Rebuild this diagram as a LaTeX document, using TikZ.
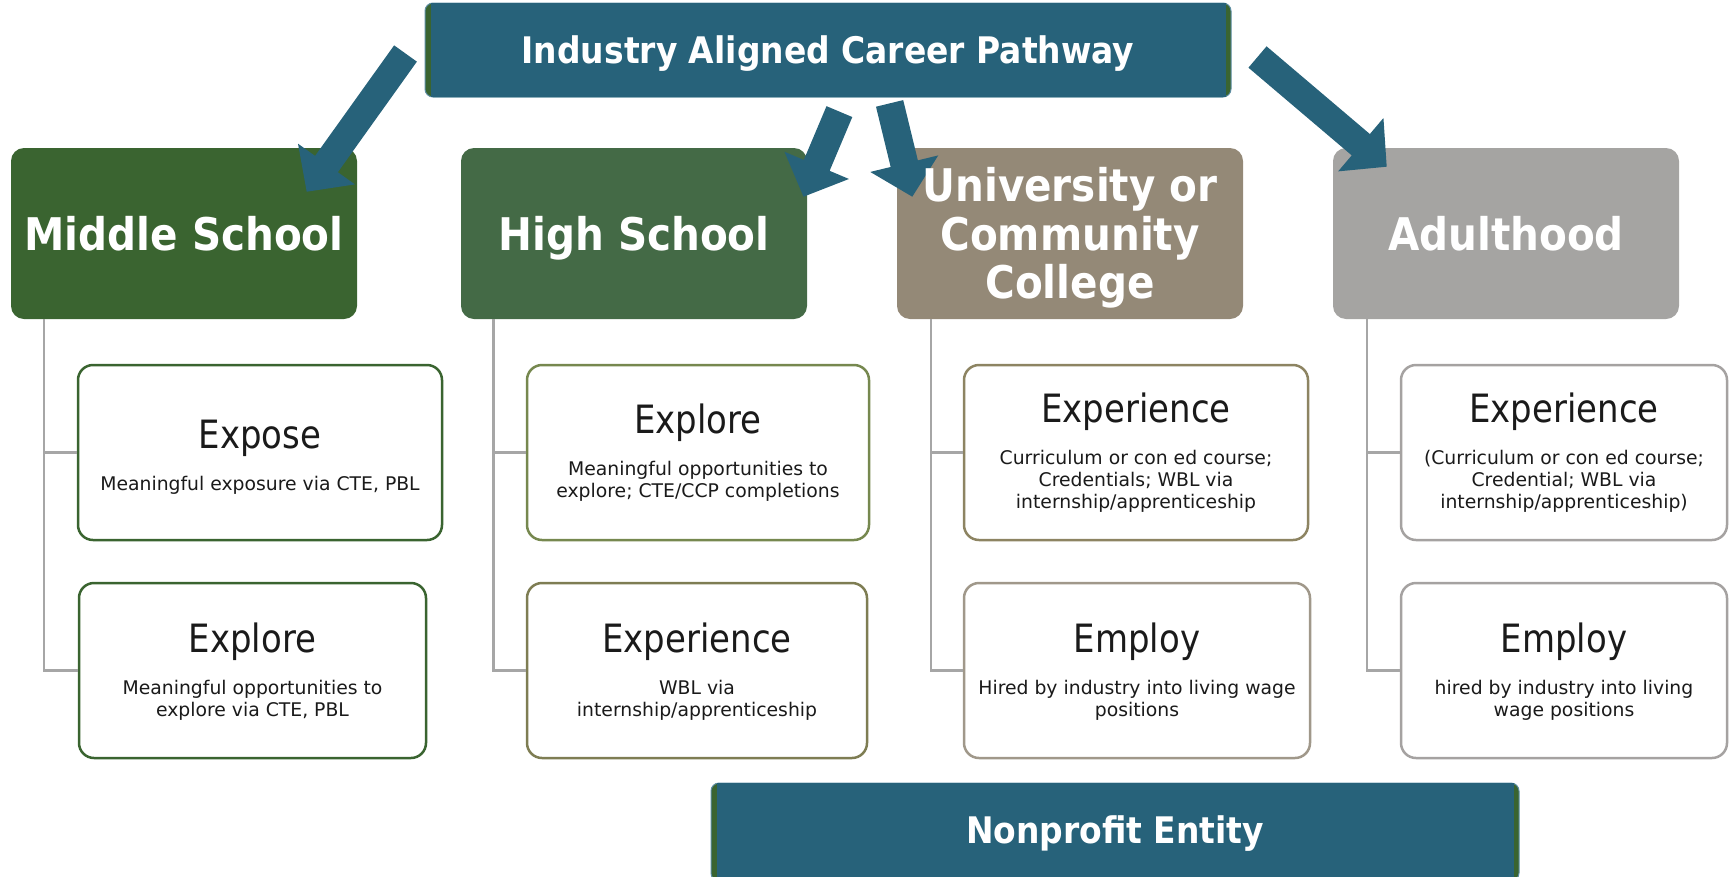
\documentclass[tikz,border=0pt]{standalone}
\usepackage{fontspec}
\setmainfont{DejaVu Sans}
\newfontfamily\titlefont{DejaVu Sans}[FakeStretch=0.87]
\newfontfamily\headfont{DejaVu Sans}[FakeStretch=0.9]
\usetikzlibrary{calc}
\definecolor{bblue}{HTML}{27627A}
\definecolor{bgreen}{HTML}{3A6430}
\definecolor{bborder}{HTML}{5C8DA3}
\definecolor{msg}{HTML}{3A6430}
\definecolor{hsg}{HTML}{446A46}
\definecolor{ucct}{HTML}{948977}
\definecolor{adg}{HTML}{A5A4A2}
\definecolor{hsonec}{HTML}{76884F}
\definecolor{hstwoc}{HTML}{7E7D53}
\definecolor{uonec}{HTML}{8D8462}
\definecolor{utwoc}{HTML}{A0988A}
\definecolor{adc}{HTML}{A5A2A1}
\definecolor{conngray}{HTML}{A6A6A6}
\definecolor{txt}{HTML}{1A1A1A}
\newcommand\mkarrow[2]{%
  \coordinate (#1h) at ($(#2)!34pt!(#1)$);
  \fill[bblue] ($(#1)!14pt!90:(#2)$) -- ($(#1h)!14pt!90:(#2)$) -- ($(#1h)!35pt!90:(#2)$) -- (#2)
    -- ($(#1h)!35pt!-90:(#2)$) -- ($(#1h)!14pt!-90:(#2)$) -- ($(#1)!14pt!-90:(#2)$) -- cycle;}
\begin{document}
\begin{tikzpicture}[x=1pt,y=-1pt,
  hdr/.style={rounded corners=13pt, minimum width=346pt, minimum height=171pt, inner sep=0pt},
  item/.style={draw, line width=2.5pt, fill=white, rounded corners=15pt, minimum height=175pt, inner sep=0pt},
  ttl/.style={font=\titlefont\fontsize{39}{44}\selectfont, text=txt, anchor=base, inner sep=0pt},
  sub/.style={font=\fontsize{18.8}{22}\selectfont, text=txt, anchor=north, align=center, inner sep=0pt},
  conn/.style={draw=conngray, line width=2.5pt},
  hlabel/.style={font=\headfont\bfseries\fontsize{45}{48.6}\selectfont, text=white, align=center, inner sep=0pt},
  blabel/.style={font=\headfont\bfseries\fontsize{36.6}{40}\selectfont, text=white, inner sep=0pt, anchor=base},
  banner/.style={fill=bgreen, draw=bborder, line width=1pt, rounded corners=8pt, minimum height=94pt, inner sep=0pt}]
\useasboundingbox (0,0) rectangle (1733,876);

% header boxes
\node[hdr, fill=msg] (ms) at (184,233.5) {};
\node[hdr, fill=hsg] (hs) at (634,233.5) {};
\node[hdr, fill=ucct] (ucc) at (1070,233.5) {};
\node[hdr, fill=adg] (ad) at (1506,233.5) {};

% item boxes
\node[item, draw=msg, minimum width=364pt] (ms1) at (260,452.5) {};
\node[item, draw=msg, minimum width=347pt] (ms2) at (252.5,670.5) {};
\node[item, draw=hsonec, minimum width=342pt] (hs1) at (698,452.5) {};
\node[item, draw=hstwoc, minimum width=340pt] (hs2) at (697,670.5) {};
\node[item, draw=uonec, minimum width=344pt] (ucc1) at (1136,452.5) {};
\node[item, draw=utwoc, minimum width=346pt] (ucc2) at (1137,670.5) {};
\node[item, draw=adc, minimum width=326pt] (ad1) at (1564,452.5) {};
\node[item, draw=adc, minimum width=326pt] (ad2) at (1564,670.5) {};

% connectors
\coordinate (msx) at (44,319);
\coordinate (hsx) at (493.5,319);
\coordinate (uccx) at (931,319);
\coordinate (adx) at (1367,319);
\draw[conn] (msx) |- (ms2.west);
\draw[conn] (msx |- ms1.west) -- (ms1.west);
\draw[conn] (hsx) |- (hs2.west);
\draw[conn] (hsx |- hs1.west) -- (hs1.west);
\draw[conn] (uccx) |- (ucc2.west);
\draw[conn] (uccx |- ucc1.west) -- (ucc1.west);
\draw[conn] (adx) |- (ad2.west);
\draw[conn] (adx |- ad1.west) -- (ad1.west);

% item texts
\node[ttl] (ms1t) at (260,448) {Expose};
\node[sub] (ms1s) at (260,475.7) {Meaningful exposure via CTE, PBL};
\node[ttl] (ms2t) at (252.5,652) {Explore};
\node[sub] (ms2s) at (252.5,679.7) {Meaningful opportunities to\\explore via CTE, PBL};
\node[ttl] (hs1t) at (698,433.5) {Explore};
\node[sub] (hs1s) at (698,461.2) {Meaningful opportunities to\\explore; CTE/CCP completions};
\node[ttl] (hs2t) at (697,652.5) {Experience};
\node[sub] (hs2s) at (697,680.2) {WBL via\\internship/apprenticeship};
\node[ttl] (ucc1t) at (1136,422.5) {Experience};
\node[sub] (ucc1s) at (1136,450.2) {Curriculum or con ed course;\\Credentials; WBL via\\internship/apprenticeship};
\node[ttl] (ucc2t) at (1137,652) {Employ};
\node[sub] (ucc2s) at (1137,679.7) {Hired by industry into living wage\\positions};
\node[ttl] (ad1t) at (1564,422.5) {Experience};
\node[sub] (ad1s) at (1564,450.2) {(Curriculum or con ed course;\\Credential; WBL via\\internship/apprenticeship)};
\node[ttl] (ad2t) at (1564,652) {Employ};
\node[sub] (ad2s) at (1564,679.7) {hired by industry into living\\wage positions};

% banners
\node[banner, minimum width=806pt] (top) at (828,50) {};
\fill[bblue] ([xshift=6pt,yshift=-0.8pt]top.north west) rectangle ([xshift=-6pt,yshift=0.8pt]top.south east);
\node[blabel] (topl) at (828,63.3) {Industry Aligned Career Pathway};
\node[banner, minimum width=808pt, minimum height=98pt] (bot) at (1115,832) {};
\fill[bblue] ([xshift=6pt,yshift=-0.8pt]bot.north west) rectangle ([xshift=-6pt,yshift=0.8pt]bot.south east);
\node[blabel] (botl) at (1115,843) {Nonprofit Entity};

% arrows
\coordinate (a1) at (405.5,53.5);  \coordinate (a1t) at (306.7,191.7);
\coordinate (a2) at (839.4,111.6); \coordinate (a2t) at (803.5,196.7);
\coordinate (a3) at (889.6,103.4); \coordinate (a3t) at (912.3,196.7);
\coordinate (a4) at (1257.5,57);   \coordinate (a4t) at (1386.7,166.7);
\mkarrow{a1}{a1t}
\mkarrow{a2}{a2t}
\mkarrow{a3}{a3t}
\mkarrow{a4}{a4t}

% header labels
\node[hlabel, anchor=base] (msl) at (184,250) {Middle School};
\node[hlabel, anchor=base] (hsl) at (634,250) {High School};
\node[hlabel] (uccl) at (1070,237.8) {University or\\Community\\College};
\node[hlabel, anchor=base] (adl) at (1506,250) {Adulthood};
\end{tikzpicture}
\end{document}
